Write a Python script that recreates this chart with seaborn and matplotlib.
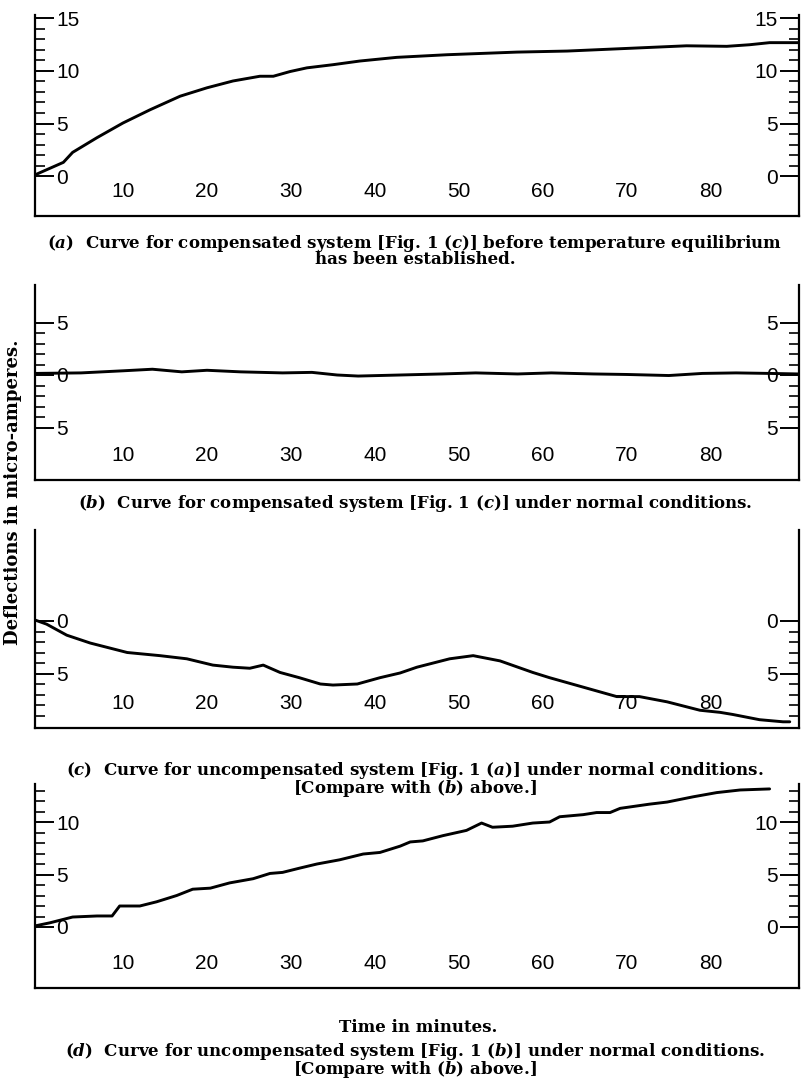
import numpy as np
import matplotlib.pyplot as plt
import seaborn as sns

# (a) compensated system, before temperature equilibrium
t_a = [-0.5, 2.9, 4.0, 6.9, 10.0, 13.2, 16.8, 20.0, 23.1, 26.3, 27.9, 29.9, 31.9,
       35.0, 38.2, 42.6, 48.6, 56.9, 62.9, 70.0, 77.1, 81.9, 84.6, 87.0, 90.4]
v_a = [0.1, 1.3, 2.25, 3.65, 5.05, 6.3, 7.6, 8.4, 9.05, 9.5, 9.5, 9.95, 10.3,
       10.6, 10.95, 11.3, 11.55, 11.8, 11.9, 12.15, 12.4, 12.35, 12.5, 12.7, 12.7]

# (b) compensated system, normal conditions
t_b = [-0.5, 5, 10, 13.5, 17, 20, 24, 29, 32.5, 35.5, 38, 43, 48, 52, 57, 61,
       66, 70, 75, 79, 83, 87, 90.4]
v_b = [0.15, 0.2, 0.4, 0.55, 0.3, 0.45, 0.3, 0.2, 0.25, 0.0, -0.1, 0.0, 0.1,
       0.2, 0.1, 0.2, 0.1, 0.05, -0.05, 0.15, 0.2, 0.15, 0.1]

# (c) uncompensated system [Fig. 1 (a)]
t_c = [-0.5, 0.9, 3.3, 6.1, 10.5, 14.4, 17.6, 20.7, 23.1, 25.1, 26.7, 28.7, 31.0,
       33.5, 35.0, 37.9, 40.6, 43.0, 45.0, 48.9, 51.7, 54.9, 58.8, 60.8, 64.8,
       68.8, 71.5, 74.8, 78.7, 81.1, 82.6, 85.8, 88.6, 89.4]
v_c = [0.1, -0.3, -1.35, -2.1, -3.0, -3.3, -3.6, -4.2, -4.4, -4.5, -4.2, -4.9, -5.4,
       -6.0, -6.1, -6.0, -5.4, -4.95, -4.4, -3.6, -3.3, -3.8, -4.9, -5.4, -6.3,
       -7.2, -7.2, -7.7, -8.5, -8.7, -8.9, -9.4, -9.6, -9.6]

# (d) uncompensated system [Fig. 1 (b)]
t_d = [-0.5, 1.3, 4.0, 6.9, 8.7, 9.6, 12.0, 14.0, 16.4, 18.3, 20.4, 22.7, 25.5,
       27.5, 29.0, 31.0, 33.1, 35.8, 38.6, 40.6, 43.0, 44.2, 45.7, 48.1, 50.9,
       52.7, 54.0, 56.4, 58.8, 60.8, 62.0, 64.8, 66.4, 68.0, 69.2, 72.7, 74.8,
       77.9, 80.7, 83.5, 87.0]
v_d = [0.1, 0.4, 0.95, 1.05, 1.05, 2.0, 2.0, 2.4, 3.0, 3.6, 3.7, 4.2, 4.6,
       5.1, 5.2, 5.6, 6.0, 6.4, 6.95, 7.1, 7.7, 8.1, 8.2, 8.7, 9.2,
       9.9, 9.5, 9.6, 9.9, 10.0, 10.5, 10.7, 10.9, 10.9, 11.3, 11.7, 11.9,
       12.4, 12.8, 13.05, 13.15]

x_major = [10, 20, 30, 40, 50, 60, 70, 80]
x_minor = [5, 15, 25, 35, 45, 55, 65, 75, 85]

captions = [
    "($a$)  Curve for compensated system [Fig. 1 ($c$)] before temperature equilibrium\n"
    "has been established.",
    "($b$)  Curve for compensated system [Fig. 1 ($c$)] under normal conditions.",
    "($c$)  Curve for uncompensated system [Fig. 1 ($a$)] under normal conditions.\n"
    "[Compare with ($b$) above.]",
    "($d$)  Curve for uncompensated system [Fig. 1 ($b$)] under normal conditions.\n"
    "[Compare with ($b$) above.]",
]

sns.set_style('white')
plt.rcParams['font.family'] = ['Liberation Sans', 'DejaVu Sans']
plt.rcParams['text.color'] = 'black'
plt.rcParams['mathtext.fontset'] = 'custom'
plt.rcParams['mathtext.rm'] = 'DejaVu Serif:bold'
plt.rcParams['mathtext.it'] = 'DejaVu Serif:italic:bold'

W, H = 803, 1079
fig = plt.figure(figsize=(W / 100, H / 100), dpi=100)
PX = 72 / 100  # points per pixel

# panel: (t, v, ylim, zero pixel row, major y ticks, minor y ticks)
panels = [
    (t_a, v_a, (-3.8, 15.3), 176, [0, 5, 10, 15], range(0, 16)),
    (t_b, v_b, (-10.0, 8.6), 375, [-5, 0, 5], range(-5, 6)),
    (t_c, v_c, (-10.2, 8.7), 621, [-5, 0], range(-9, 1)),
    (t_d, v_d, (-5.8, 13.6), 927, [0, 5, 10], range(0, 14)),
]
scale = 10.5  # pixels per micro-ampere
left_px, right_px = 35, 799

for t, v, (ylo, yhi), zero, ymaj, ymin in panels:
    top = zero - yhi * scale
    bottom = zero - ylo * scale
    ax = fig.add_axes([left_px / W, 1 - bottom / H,
                       (right_px - left_px) / W, (bottom - top) / H])
    sns.lineplot(x=t, y=v, ax=ax, color='black', linewidth=2.1)
    ax.set_xlim(-0.48, 90.5)
    ax.set_ylim(ylo, yhi)
    ax.set_xticks(x_major)
    ax.set_xticklabels([str(x) for x in x_major])
    ax.set_xticks(x_minor, minor=True)
    ax.set_yticks(ymaj)
    ax.set_yticklabels([str(abs(y)) for y in ymaj])
    ax.set_yticks([y for y in ymin if y not in ymaj], minor=True)

    for s in ['left', 'right', 'bottom']:
        ax.spines[s].set_visible(True)
        ax.spines[s].set_color('black')
        ax.spines[s].set_linewidth(1.6)
    ax.spines['top'].set_visible(False)

    ax.tick_params(axis='x', which='major', direction='in', length=13 * PX,
                   width=1.4, pad=-34 * PX, labelsize=15, colors='black')
    ax.tick_params(axis='x', which='minor', direction='in', length=8 * PX,
                   width=1.4)
    ax.tick_params(axis='y', which='major', direction='in', length=19 * PX,
                   width=1.4, pad=-21 * PX, labelsize=15, colors='black',
                   left=True, right=True, labelleft=True, labelright=True)
    ax.tick_params(axis='y', which='minor', direction='in', length=10 * PX,
                   width=1.4, left=True, right=True)
    for tk in ax.yaxis.get_major_ticks():
        tk.label1.set_horizontalalignment('left')
        tk.label2.set_horizontalalignment('right')
    ax.set_xlabel('')
    ax.set_ylabel('')

serif = {'family': 'DejaVu Serif', 'weight': 'bold', 'size': 12.0}
cap_y = [233, 493, 760, 1041]   # top of the first caption line
for txt, y in zip(captions, cap_y):
    fig.text(415 / W, 1 - y / H, txt, ha='center', va='top',
             linespacing=0.8, **serif)

fig.text(418 / W, 1 - 1027 / H, 'Time in minutes.', ha='center', va='center',
         **serif)
fig.text(13 / W, 1 - 492 / H, 'Deflections in micro-amperes.', rotation=90,
         ha='center', va='center', family='DejaVu Serif', weight='bold',
         size=13)

fig.savefig('out.png', dpi=100)
